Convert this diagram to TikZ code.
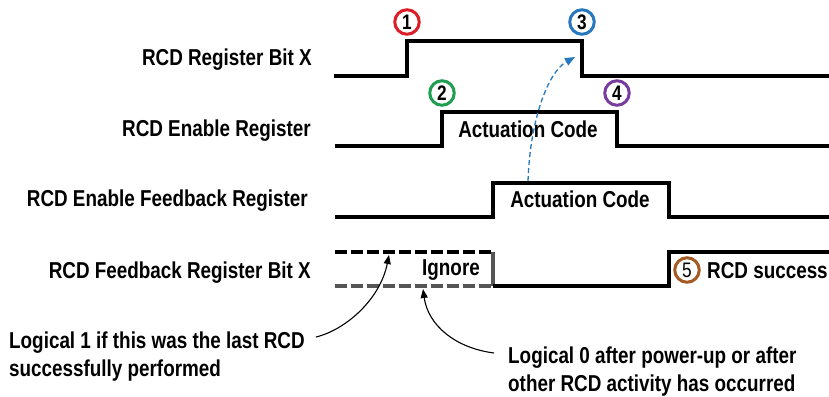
\documentclass[tikz,border=0pt]{standalone}
\usepackage{fontspec}
\newfontfamily\lbl[FakeStretch=0.82]{Liberation Sans}
\usetikzlibrary{arrows.meta}
\definecolor{cred}{RGB}{220,30,40}
\definecolor{cblue}{RGB}{40,120,190}
\definecolor{cgreen}{RGB}{30,158,80}
\definecolor{cpurple}{RGB}{120,60,160}
\definecolor{cbrown}{RGB}{165,90,35}
\definecolor{cgray}{RGB}{85,85,85}
\begin{document}
\begin{tikzpicture}[x=1pt,y=-1pt,
  sig/.style={line width=4pt, line join=miter},
  dsh/.style={line width=3.5pt, dash pattern=on 12pt off 4pt},
  lab/.style={font=\lbl\bfseries\fontsize{23}{27.5}\selectfont, inner sep=0pt},
  num/.style={circle, line width=3pt, minimum size=24.5pt, inner sep=0pt,
    font=\lbl\bfseries\fontsize{21}{21}\selectfont},
  ann/.style={line width=1.1pt, -{Triangle[length=9pt,width=7pt]}},
]
\fill[white] (0,0) rectangle (829,396);
\useasboundingbox (0,0) rectangle (829,396);

% row labels
\node[lab, anchor=base east] (l1) at (312,66) {RCD Register Bit X};
\node[lab, anchor=base east] (l2) at (311,136) {RCD Enable Register};
\node[lab, anchor=base east] (l3) at (308,206) {RCD Enable Feedback Register};
\node[lab, anchor=base east] (l4) at (311,278) {RCD Feedback Register Bit X};

% row 1
\coordinate (a0) at (334,76); \coordinate (a1) at (407,76);
\coordinate (a2) at (407,41); \coordinate (a3) at (582,41);
\coordinate (a4) at (582,76); \coordinate (a5) at (829,76);
\draw[sig] (a0) -- (a1) -- (a2) -- (a3) -- (a4) -- (a5);

% row 2
\coordinate (b0) at (335,146); \coordinate (b1) at (442,146);
\coordinate (b2) at (442,112); \coordinate (b3) at (617,112);
\coordinate (b4) at (617,146); \coordinate (b5) at (829,146);
\draw[sig] (b0) -- (b1) -- (b2) -- (b3) -- (b4) -- (b5);

% row 3
\coordinate (c0) at (335,217); \coordinate (c1) at (493,217);
\coordinate (c2) at (493,183); \coordinate (c3) at (669,183);
\coordinate (c4) at (669,217); \coordinate (c5) at (829,217);
\draw[sig] (c0) -- (c1) -- (c2) -- (c3) -- (c4) -- (c5);

% row 4
\coordinate (d0) at (335,252); \coordinate (d1) at (493,252);
\coordinate (g0) at (335,286); \coordinate (g1) at (493,286);
\coordinate (e1) at (669,286); \coordinate (e2) at (669,252);
\coordinate (e3) at (829,252);
\draw[dsh] (d0) -- (d1);
\draw[dsh, cgray] (g0) -- (g1);
\draw[line width=3.5pt, cgray] (d1) -- (g1);
\draw[sig] (g1) -- (e1) -- (e2) -- (e3);

% texts in signals
\node[lab, anchor=base] (ac1) at (528,137) {Actuation Code};
\node[lab, anchor=base] (ac2) at (580,207) {Actuation Code};
\node[lab, anchor=base] (ign) at (451,275) {Ignore};
\node[lab, anchor=base west] (succ) at (707,278) {RCD success};

% numbered circles
\node[num, draw=cred] (n1) at (407,22) {1};
\node[num, draw=cgreen] (n2) at (442,93) {2};
\node[num, draw=cblue] (n3) at (582,22) {3};
\node[num, draw=cpurple] (n4) at (617,93) {4};
\node[num, draw=cbrown, font=\lbl\fontsize{21}{21}\selectfont] (n5) at (687,270) {5};

% blue dashed arrow
\coordinate (bs) at (528,181); \coordinate (be) at (575,57);
\draw[cblue, line width=1.3pt, dash pattern=on 5pt off 3pt,
  -{Triangle[length=10pt,width=8pt]}] (bs) .. controls (530,120) and (548,72) .. (be);

% annotations
\node[lab, anchor=base west, align=left] (t1) at (9,376)
  {Logical 1 if this was the last RCD\\successfully performed};
\node[lab, anchor=base west, align=left] (t2) at (508,391)
  {Logical 0 after power-up or after\\other RCD activity has occurred};
\coordinate (p1s) at (316,337); \coordinate (p1e) at (389,255);
\coordinate (p2s) at (494,353); \coordinate (p2e) at (423,289);
\draw[ann] (p1s) .. controls (345,330) and (380,300) .. (p1e);
\draw[ann] (p2s) .. controls (455,348) and (428,325) .. (p2e);
\end{tikzpicture}
\end{document}
